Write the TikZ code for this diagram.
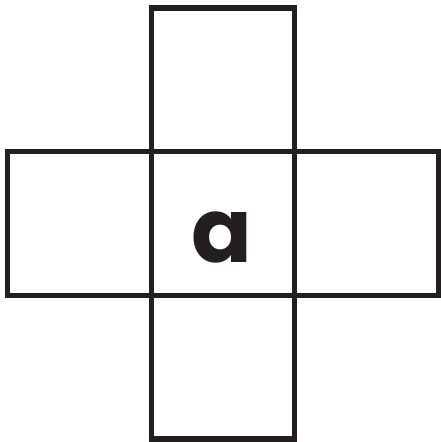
\documentclass[tikz,border=0pt]{standalone}
\usepackage{fontspec}
\newfontfamily\letterfont{Poppins}[BoldFont={* Bold}]
\usetikzlibrary{positioning}
\definecolor{inkblack}{RGB}{35,31,32}

\begin{document}
\begin{tikzpicture}[x=0.02cm,y=-0.02cm,
sq/.style={draw=inkblack,line width=3pt,minimum size=2.874cm,outer sep=0pt,inner sep=0pt},
letter/.style={text=inkblack,inner sep=0pt,font=\letterfont\bfseries\fontsize{51}{51}\selectfont}
]
\useasboundingbox (0,0) rectangle (440,442);
\node[sq] (mid) at (223,223.5) {};
\node[sq,above=0pt of mid] (top) {};
\node[sq,below=0pt of mid] (bot) {};
\node[sq,left=0pt of mid] (lft) {};
\node[sq,right=0pt of mid] (rgt) {};
\node[letter,anchor=base] (lbl) at (222,262) {a};
\end{tikzpicture}
\end{document}
